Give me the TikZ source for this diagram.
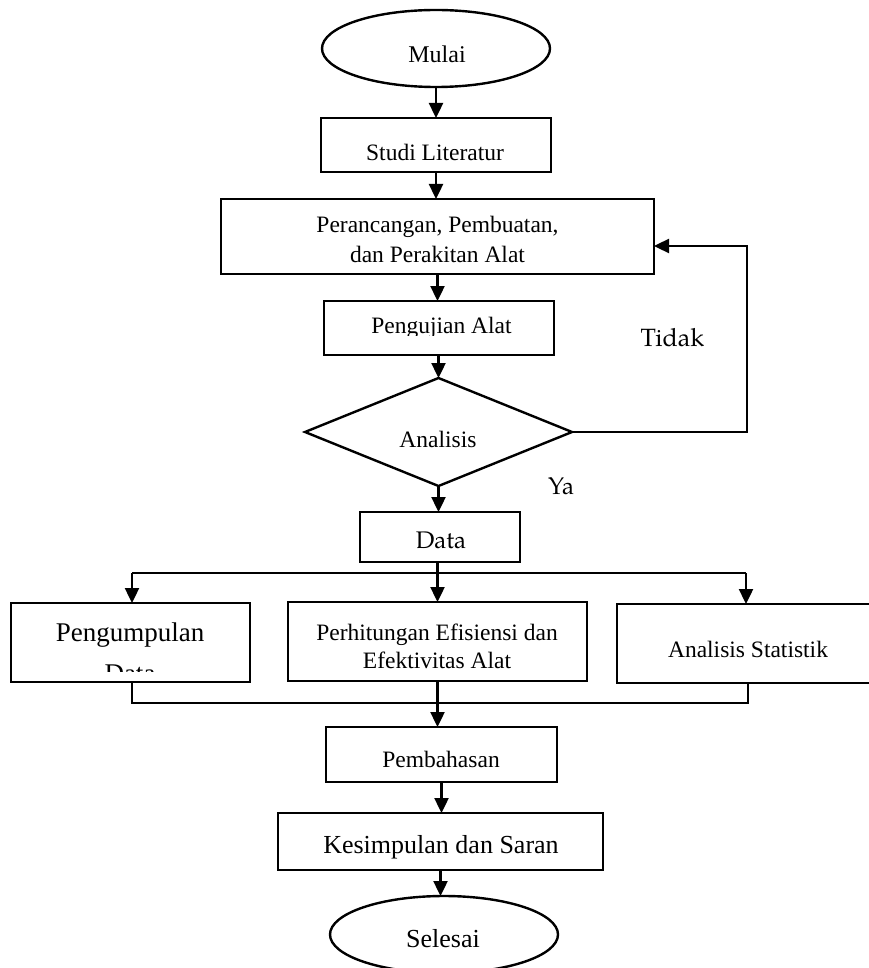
\documentclass[tikz,border=0pt]{standalone}
\usepackage{fontspec}
\setmainfont{Liberation Serif}
\newfontfamily\palfont{texgyrepagella-regular.otf}
\usetikzlibrary{arrows.meta,shapes.geometric}
\begin{document}
\begin{tikzpicture}[x=1pt,y=-1pt,
  lw/.style={line width=2.4pt},
  box/.style={draw,lw,rectangle,inner sep=0pt,outer sep=0pt},
  oval/.style={draw,lw,ellipse,inner sep=0pt,outer sep=0pt},
  dec/.style={draw,lw,diamond,inner sep=0pt,outer sep=0pt},
  conn/.style={lw},
  arr/.style={lw,-{Triangle[length=15pt,width=14pt]}},
  txt/.style={anchor=base,inner sep=0pt,outer sep=0pt,font=\fontsize{23.5}{28}\selectfont},
  bigtxt/.style={txt,font=\fontsize{26}{30}\selectfont},
  paltxt/.style={txt,font=\palfont\fontsize{24}{28}\selectfont}]
\useasboundingbox (0,0) rectangle (869,968);
\clip (0,0) rectangle (869,968);

% shapes
\node[oval,minimum width=228pt,minimum height=77pt] (mulai) at (436,48.5) {};
\node[box,minimum width=230pt,minimum height=54pt] (studi) at (436,145) {};
\node[box,minimum width=433pt,minimum height=75pt] (peran) at (437.5,236.5) {};
\node[box,minimum width=230pt,minimum height=54pt] (uji) at (439,328) {};
\node[dec,minimum width=267pt,minimum height=108pt] (dia) at (438.5,432) {};
\node[box,minimum width=160pt,minimum height=50pt] (data) at (440,537) {};
\node[box,minimum width=239pt,minimum height=79pt] (kumpul) at (130.5,642.5) {};
\node[box,minimum width=299pt,minimum height=79pt] (hitung) at (437.5,641.5) {};
\node[box,minimum width=283pt,minimum height=79pt] (statis) at (758.5,643.5) {};
\node[box,minimum width=231pt,minimum height=55pt] (bahas) at (441.5,754.5) {};
\node[box,minimum width=325pt,minimum height=57pt] (simpul) at (440.5,841.5) {};
\node[oval,minimum width=228pt,minimum height=77pt] (selesai) at (444,934.5) {};

% texts
\node[txt,font=\fontsize{24}{28}\selectfont] (tmulai) at (437,63) {Mulai};
\node[txt] (tstudi) at (435,161) {Studi Literatur};
\node[txt] (tperan1) at (437.5,233) {Perancangan, Pembuatan,};
\node[txt] (tperan2) at (437.5,262) {dan Perakitan Alat};
\begin{scope}
\clip (300,290) rectangle (580,335);
\node[txt] (tuji) at (441.5,333) {Pengujian Alat};
\end{scope}
\node[txt] (tdia) at (438,447) {Analisis};
\node[paltxt] (tdata) at (441,548) {Data};
\node[paltxt,font=\palfont\fontsize{25}{28}\selectfont] (ttidak) at (672.5,346) {Tidak};
\node[paltxt] (tya) at (561,494) {Ya};
\begin{scope}
\clip (0,590) rectangle (270,671);
\node[txt,font=\fontsize{27}{32}\selectfont] (tkumpul1) at (130,641) {Pengumpulan};
\node[txt,font=\fontsize{27}{32}\selectfont] (tkumpul2) at (130,682) {Data};
\end{scope}
\node[txt] (thitung1) at (437,640) {Perhitungan Efisiensi dan};
\node[txt] (thitung2) at (437,668) {Efektivitas Alat};
\node[txt] (tstatis) at (748,657) {Analisis Statistik};
\node[txt] (tbahas) at (441,767) {Pembahasan};
\node[bigtxt] (tsimpul) at (441,853) {Kesimpulan dan Saran};
\node[bigtxt] (tselesai) at (443,947) {Selesai};

% connectors
\draw[arr] (mulai.south) -- (mulai.south |- studi.north);
\draw[arr] (studi.south) -- (studi.south |- peran.north);
\draw[arr] (peran.south) -- (peran.south |- uji.north);
\draw[arr] (uji.south -| dia.north) -- (dia.north);
\draw[arr] (dia.south) -- (dia.south |- data.north);

\coordinate (ltop) at (747,246);
\draw[arr] (dia.east) -| (ltop) -- (ltop -| peran.east);

\coordinate (sl) at (132,573);
\coordinate (sr) at (746,573);
\draw[conn] (sl) -- (sr);
\draw[arr] (data.south -| hitung.north) -- (hitung.north);
\draw[arr] (sl) -- (sl |- kumpul.north);
\draw[arr] (sr) -- (sr |- statis.north);

\coordinate (jl) at (132,703);
\coordinate (jr) at (748,703);
\draw[conn] (jl |- kumpul.south) -- (jl) -- (jr) -- (jr |- statis.south);
\draw[arr] (hitung.south) -- (hitung.south |- bahas.north);
\draw[arr] (bahas.south) -- (bahas.south |- simpul.north);
\draw[arr] (simpul.south) -- (simpul.south |- selesai.north);
\end{tikzpicture}
\end{document}
